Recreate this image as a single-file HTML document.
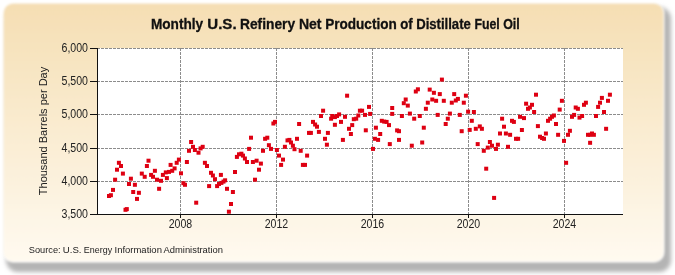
<!DOCTYPE html>
<html><head><meta charset="utf-8"><style>
html,body{margin:0;padding:0;background:#fff;width:675px;height:275px;overflow:hidden}
svg{display:block;will-change:transform}
text{font-family:"Liberation Sans",sans-serif;fill:#222}
.g{stroke:#8c8c8c;stroke-width:1;stroke-dasharray:3 1}
.a{stroke:#111;stroke-width:1}
.yl{font-size:12px;text-anchor:end}
.xl{font-size:12px;text-anchor:middle}
</style></head><body>
<svg width="675" height="275" viewBox="0 0 675 275">
<defs>
<linearGradient id="bg" x1="0" y1="0" x2="0" y2="1">
<stop offset="0" stop-color="#F5DEB3"/>
<stop offset="1" stop-color="#FFFAF0"/>
</linearGradient>
<filter id="sh" x="-10%" y="-10%" width="120%" height="130%"><feGaussianBlur stdDeviation="2.2"/></filter>
<filter id="bx" x="-5%" y="-5%" width="110%" height="110%"><feGaussianBlur stdDeviation="0.9"/></filter>
</defs>
<rect x="6" y="7" width="665" height="265" rx="12" fill="#b4b4b4" filter="url(#sh)"/>
<rect x="3" y="3" width="661" height="259" rx="10" fill="url(#bg)" stroke="#fff" stroke-opacity="0.7" stroke-width="1.5" filter="url(#bx)"/>
<rect x="97" y="48" width="526" height="166" fill="#fff"/>
<line x1="97" y1="48.5" x2="623" y2="48.5" class="g"/><line x1="97" y1="81.5" x2="623" y2="81.5" class="g"/><line x1="97" y1="114.5" x2="623" y2="114.5" class="g"/><line x1="97" y1="148.5" x2="623" y2="148.5" class="g"/><line x1="97" y1="181.5" x2="623" y2="181.5" class="g"/><line x1="180.5" y1="48" x2="180.5" y2="214" class="g"/><line x1="276.5" y1="48" x2="276.5" y2="214" class="g"/><line x1="372.5" y1="48" x2="372.5" y2="214" class="g"/><line x1="468.5" y1="48" x2="468.5" y2="214" class="g"/><line x1="564.5" y1="48" x2="564.5" y2="214" class="g"/>
<line x1="97.5" y1="48" x2="97.5" y2="215" class="a"/>
<line x1="97" y1="214.5" x2="623" y2="214.5" class="a"/>
<line x1="90" y1="48.5" x2="97" y2="48.5" class="a"/><text x="88" y="52.3" class="yl" textLength="26.5" lengthAdjust="spacingAndGlyphs">6,000</text><line x1="90" y1="81.5" x2="97" y2="81.5" class="a"/><text x="88" y="85.3" class="yl" textLength="26.5" lengthAdjust="spacingAndGlyphs">5,500</text><line x1="90" y1="114.5" x2="97" y2="114.5" class="a"/><text x="88" y="118.3" class="yl" textLength="26.5" lengthAdjust="spacingAndGlyphs">5,000</text><line x1="90" y1="148.5" x2="97" y2="148.5" class="a"/><text x="88" y="152.3" class="yl" textLength="26.5" lengthAdjust="spacingAndGlyphs">4,500</text><line x1="90" y1="181.5" x2="97" y2="181.5" class="a"/><text x="88" y="185.3" class="yl" textLength="26.5" lengthAdjust="spacingAndGlyphs">4,000</text><line x1="90" y1="214.5" x2="97" y2="214.5" class="a"/><text x="88" y="218.3" class="yl" textLength="26.5" lengthAdjust="spacingAndGlyphs">3,500</text><line x1="180.5" y1="214" x2="180.5" y2="218" class="a"/><text x="180.5" y="227.7" class="xl" textLength="23.5" lengthAdjust="spacingAndGlyphs">2008</text><line x1="276.5" y1="214" x2="276.5" y2="218" class="a"/><text x="276.5" y="227.7" class="xl" textLength="23.5" lengthAdjust="spacingAndGlyphs">2012</text><line x1="372.5" y1="214" x2="372.5" y2="218" class="a"/><text x="372.5" y="227.7" class="xl" textLength="23.5" lengthAdjust="spacingAndGlyphs">2016</text><line x1="468.5" y1="214" x2="468.5" y2="218" class="a"/><text x="468.5" y="227.7" class="xl" textLength="23.5" lengthAdjust="spacingAndGlyphs">2020</text><line x1="564.5" y1="214" x2="564.5" y2="218" class="a"/><text x="564.5" y="227.7" class="xl" textLength="23.5" lengthAdjust="spacingAndGlyphs">2024</text>
<text x="150.92" y="28.8" style="font-size:14px;font-weight:bold;fill:#111;stroke:#111;stroke-width:0.3" textLength="52.23" lengthAdjust="spacingAndGlyphs">Monthly</text><text x="207.34" y="28.8" style="font-size:14px;font-weight:bold;fill:#111;stroke:#111;stroke-width:0.3" textLength="29.26" lengthAdjust="spacingAndGlyphs">U.S.</text><text x="240.01" y="28.8" style="font-size:14px;font-weight:bold;fill:#111;stroke:#111;stroke-width:0.3" textLength="55.11" lengthAdjust="spacingAndGlyphs">Refinery</text><text x="298.90" y="28.8" style="font-size:14px;font-weight:bold;fill:#111;stroke:#111;stroke-width:0.3" textLength="22.66" lengthAdjust="spacingAndGlyphs">Net</text><text x="325.23" y="28.8" style="font-size:14px;font-weight:bold;fill:#111;stroke:#111;stroke-width:0.3" textLength="71.53" lengthAdjust="spacingAndGlyphs">Production</text><text x="400.13" y="28.8" style="font-size:14px;font-weight:bold;fill:#111;stroke:#111;stroke-width:0.3" textLength="12.48" lengthAdjust="spacingAndGlyphs">of</text><text x="416.16" y="28.8" style="font-size:14px;font-weight:bold;fill:#111;stroke:#111;stroke-width:0.3" textLength="54.67" lengthAdjust="spacingAndGlyphs">Distillate</text><text x="474.41" y="28.8" style="font-size:14px;font-weight:bold;fill:#111;stroke:#111;stroke-width:0.3" textLength="25.36" lengthAdjust="spacingAndGlyphs">Fuel</text><text x="503.17" y="28.8" style="font-size:14px;font-weight:bold;fill:#111;stroke:#111;stroke-width:0.3" textLength="16.60" lengthAdjust="spacingAndGlyphs">Oil</text>
<text transform="translate(47,131) rotate(-90)" style="font-size:11px;text-anchor:middle">Thousand Barrels per Day</text>
<text x="28.81" y="252.9" style="font-size:9.5px;fill:#222" textLength="31.80" lengthAdjust="spacingAndGlyphs">Source:</text><text x="62.79" y="252.9" style="font-size:9.5px;fill:#222" textLength="18.70" lengthAdjust="spacingAndGlyphs">U.S.</text><text x="83.85" y="252.9" style="font-size:9.5px;fill:#222" textLength="28.25" lengthAdjust="spacingAndGlyphs">Energy</text><text x="114.50" y="252.9" style="font-size:9.5px;fill:#222" textLength="47.42" lengthAdjust="spacingAndGlyphs">Information</text><text x="163.50" y="252.9" style="font-size:9.5px;fill:#222" textLength="59.49" lengthAdjust="spacingAndGlyphs">Administration</text>
<g fill="#DE0012"><rect x="107.0" y="194.0" width="4" height="4"/><rect x="108.9" y="193.2" width="4" height="4"/><rect x="111.0" y="187.9" width="4" height="4"/><rect x="113.1" y="177.7" width="4" height="4"/><rect x="115.0" y="167.7" width="4" height="4"/><rect x="116.9" y="160.8" width="4" height="4"/><rect x="119.0" y="164.0" width="4" height="4"/><rect x="120.9" y="171.6" width="4" height="4"/><rect x="123.5" y="207.8" width="4" height="4"/><rect x="124.8" y="207.1" width="4" height="4"/><rect x="127.0" y="182.0" width="4" height="4"/><rect x="128.9" y="176.7" width="4" height="4"/><rect x="131.2" y="190.0" width="4" height="4"/><rect x="132.9" y="182.8" width="4" height="4"/><rect x="135.0" y="196.9" width="4" height="4"/><rect x="136.9" y="190.8" width="4" height="4"/><rect x="139.8" y="171.6" width="4" height="4"/><rect x="142.7" y="174.8" width="4" height="4"/><rect x="144.9" y="164.0" width="4" height="4"/><rect x="146.5" y="158.7" width="4" height="4"/><rect x="149.1" y="172.9" width="4" height="4"/><rect x="151.0" y="174.8" width="4" height="4"/><rect x="152.9" y="168.8" width="4" height="4"/><rect x="155.0" y="177.7" width="4" height="4"/><rect x="157.1" y="186.8" width="4" height="4"/><rect x="159.0" y="178.8" width="4" height="4"/><rect x="160.9" y="172.9" width="4" height="4"/><rect x="163.8" y="170.4" width="4" height="4"/><rect x="164.9" y="176.1" width="4" height="4"/><rect x="167.0" y="169.9" width="4" height="4"/><rect x="168.6" y="162.9" width="4" height="4"/><rect x="170.2" y="168.8" width="4" height="4"/><rect x="172.6" y="166.4" width="4" height="4"/><rect x="174.7" y="160.8" width="4" height="4"/><rect x="176.9" y="157.6" width="4" height="4"/><rect x="179.0" y="171.3" width="4" height="4"/><rect x="181.4" y="181.2" width="4" height="4"/><rect x="183.0" y="182.8" width="4" height="4"/><rect x="184.9" y="160.0" width="4" height="4"/><rect x="187.0" y="148.8" width="4" height="4"/><rect x="189.1" y="140.0" width="4" height="4"/><rect x="191.0" y="144.8" width="4" height="4"/><rect x="192.9" y="148.0" width="4" height="4"/><rect x="194.2" y="200.7" width="4" height="4"/><rect x="196.5" y="150.7" width="4" height="4"/><rect x="198.6" y="146.4" width="4" height="4"/><rect x="200.7" y="144.8" width="4" height="4"/><rect x="202.9" y="160.8" width="4" height="4"/><rect x="205.0" y="164.0" width="4" height="4"/><rect x="207.1" y="184.1" width="4" height="4"/><rect x="209.0" y="170.8" width="4" height="4"/><rect x="210.9" y="173.5" width="4" height="4"/><rect x="213.0" y="177.2" width="4" height="4"/><rect x="215.1" y="184.1" width="4" height="4"/><rect x="217.0" y="182.0" width="4" height="4"/><rect x="218.9" y="172.9" width="4" height="4"/><rect x="219.4" y="180.9" width="4" height="4"/><rect x="221.5" y="179.6" width="4" height="4"/><rect x="223.1" y="178.3" width="4" height="4"/><rect x="225.0" y="186.8" width="4" height="4"/><rect x="226.9" y="209.7" width="4" height="4"/><rect x="229.0" y="202.0" width="4" height="4"/><rect x="230.9" y="190.0" width="4" height="4"/><rect x="233.0" y="170.0" width="4" height="4"/><rect x="234.9" y="154.9" width="4" height="4"/><rect x="237.0" y="152.3" width="4" height="4"/><rect x="239.4" y="151.7" width="4" height="4"/><rect x="241.0" y="153.6" width="4" height="4"/><rect x="242.9" y="156.5" width="4" height="4"/><rect x="245.0" y="160.0" width="4" height="4"/><rect x="247.1" y="146.9" width="4" height="4"/><rect x="249.0" y="135.7" width="4" height="4"/><rect x="250.9" y="160.0" width="4" height="4"/><rect x="253.0" y="177.7" width="4" height="4"/><rect x="254.6" y="158.7" width="4" height="4"/><rect x="257.0" y="167.7" width="4" height="4"/><rect x="258.9" y="161.6" width="4" height="4"/><rect x="261.0" y="148.8" width="4" height="4"/><rect x="263.1" y="136.8" width="4" height="4"/><rect x="265.3" y="135.7" width="4" height="4"/><rect x="266.9" y="143.2" width="4" height="4"/><rect x="269.0" y="146.9" width="4" height="4"/><rect x="271.4" y="121.5" width="4" height="4"/><rect x="273.0" y="119.9" width="4" height="4"/><rect x="274.9" y="148.0" width="4" height="4"/><rect x="277.0" y="153.6" width="4" height="4"/><rect x="279.1" y="162.9" width="4" height="4"/><rect x="281.0" y="157.6" width="4" height="4"/><rect x="282.9" y="144.8" width="4" height="4"/><rect x="285.5" y="138.4" width="4" height="4"/><rect x="287.4" y="137.9" width="4" height="4"/><rect x="289.0" y="140.5" width="4" height="4"/><rect x="290.9" y="143.7" width="4" height="4"/><rect x="292.5" y="147.2" width="4" height="4"/><rect x="295.0" y="136.8" width="4" height="4"/><rect x="297.1" y="122.0" width="4" height="4"/><rect x="298.7" y="148.8" width="4" height="4"/><rect x="300.9" y="162.9" width="4" height="4"/><rect x="303.0" y="162.9" width="4" height="4"/><rect x="305.1" y="153.6" width="4" height="4"/><rect x="307.0" y="130.9" width="4" height="4"/><rect x="308.9" y="130.9" width="4" height="4"/><rect x="311.0" y="119.9" width="4" height="4"/><rect x="313.1" y="122.5" width="4" height="4"/><rect x="315.0" y="124.7" width="4" height="4"/><rect x="316.9" y="129.9" width="4" height="4"/><rect x="319.0" y="114.0" width="4" height="4"/><rect x="321.1" y="108.7" width="4" height="4"/><rect x="323.0" y="136.8" width="4" height="4"/><rect x="324.9" y="142.7" width="4" height="4"/><rect x="325.9" y="130.9" width="4" height="4"/><rect x="329.1" y="116.7" width="4" height="4"/><rect x="330.2" y="114.0" width="4" height="4"/><rect x="332.9" y="115.1" width="4" height="4"/><rect x="332.9" y="122.8" width="4" height="4"/><rect x="335.0" y="114.0" width="4" height="4"/><rect x="337.1" y="112.4" width="4" height="4"/><rect x="339.0" y="119.9" width="4" height="4"/><rect x="340.9" y="137.9" width="4" height="4"/><rect x="343.0" y="114.8" width="4" height="4"/><rect x="345.1" y="93.7" width="4" height="4"/><rect x="347.0" y="126.8" width="4" height="4"/><rect x="348.9" y="132.0" width="4" height="4"/><rect x="350.2" y="123.1" width="4" height="4"/><rect x="351.8" y="117.2" width="4" height="4"/><rect x="354.2" y="116.7" width="4" height="4"/><rect x="356.3" y="113.5" width="4" height="4"/><rect x="357.9" y="108.7" width="4" height="4"/><rect x="360.1" y="108.7" width="4" height="4"/><rect x="363.0" y="112.9" width="4" height="4"/><rect x="363.8" y="128.3" width="4" height="4"/><rect x="367.0" y="104.9" width="4" height="4"/><rect x="368.1" y="111.9" width="4" height="4"/><rect x="371.0" y="146.9" width="4" height="4"/><rect x="372.9" y="136.8" width="4" height="4"/><rect x="373.9" y="125.7" width="4" height="4"/><rect x="376.1" y="137.9" width="4" height="4"/><rect x="378.2" y="132.0" width="4" height="4"/><rect x="379.8" y="118.8" width="4" height="4"/><rect x="382.2" y="119.6" width="4" height="4"/><rect x="384.6" y="119.9" width="4" height="4"/><rect x="387.0" y="123.1" width="4" height="4"/><rect x="387.8" y="142.1" width="4" height="4"/><rect x="390.2" y="106.0" width="4" height="4"/><rect x="390.2" y="111.9" width="4" height="4"/><rect x="395.1" y="128.4" width="4" height="4"/><rect x="397.0" y="129.2" width="4" height="4"/><rect x="397.0" y="137.9" width="4" height="4"/><rect x="399.9" y="114.0" width="4" height="4"/><rect x="401.8" y="101.2" width="4" height="4"/><rect x="403.7" y="97.5" width="4" height="4"/><rect x="405.8" y="103.6" width="4" height="4"/><rect x="407.9" y="111.6" width="4" height="4"/><rect x="409.8" y="143.7" width="4" height="4"/><rect x="412.2" y="116.7" width="4" height="4"/><rect x="413.8" y="89.5" width="4" height="4"/><rect x="415.9" y="87.3" width="4" height="4"/><rect x="417.8" y="114.0" width="4" height="4"/><rect x="420.2" y="140.5" width="4" height="4"/><rect x="421.8" y="125.7" width="4" height="4"/><rect x="423.9" y="106.8" width="4" height="4"/><rect x="425.8" y="100.7" width="4" height="4"/><rect x="427.7" y="87.6" width="4" height="4"/><rect x="430.3" y="97.5" width="4" height="4"/><rect x="431.9" y="90.8" width="4" height="4"/><rect x="434.1" y="98.8" width="4" height="4"/><rect x="435.7" y="112.9" width="4" height="4"/><rect x="437.8" y="92.1" width="4" height="4"/><rect x="439.9" y="77.6" width="4" height="4"/><rect x="441.8" y="98.8" width="4" height="4"/><rect x="443.7" y="122.0" width="4" height="4"/><rect x="445.8" y="116.7" width="4" height="4"/><rect x="447.9" y="111.6" width="4" height="4"/><rect x="449.8" y="100.7" width="4" height="4"/><rect x="452.2" y="92.1" width="4" height="4"/><rect x="453.8" y="98.5" width="4" height="4"/><rect x="455.9" y="96.9" width="4" height="4"/><rect x="457.8" y="112.9" width="4" height="4"/><rect x="459.7" y="129.2" width="4" height="4"/><rect x="461.8" y="100.7" width="4" height="4"/><rect x="463.9" y="93.7" width="4" height="4"/><rect x="466.1" y="109.7" width="4" height="4"/><rect x="467.7" y="127.9" width="4" height="4"/><rect x="469.8" y="118.8" width="4" height="4"/><rect x="471.9" y="110.0" width="4" height="4"/><rect x="473.8" y="126.8" width="4" height="4"/><rect x="475.7" y="142.1" width="4" height="4"/><rect x="477.8" y="124.4" width="4" height="4"/><rect x="479.9" y="126.8" width="4" height="4"/><rect x="481.8" y="148.8" width="4" height="4"/><rect x="484.2" y="166.7" width="4" height="4"/><rect x="485.8" y="145.6" width="4" height="4"/><rect x="487.9" y="140.0" width="4" height="4"/><rect x="490.0" y="143.7" width="4" height="4"/><rect x="492.1" y="195.9" width="4" height="4"/><rect x="494.0" y="146.9" width="4" height="4"/><rect x="495.9" y="142.7" width="4" height="4"/><rect x="498.0" y="131.5" width="4" height="4"/><rect x="500.1" y="116.7" width="4" height="4"/><rect x="502.0" y="124.7" width="4" height="4"/><rect x="503.9" y="131.5" width="4" height="4"/><rect x="506.0" y="144.8" width="4" height="4"/><rect x="508.1" y="132.8" width="4" height="4"/><rect x="510.0" y="118.8" width="4" height="4"/><rect x="511.9" y="119.9" width="4" height="4"/><rect x="514.0" y="136.8" width="4" height="4"/><rect x="516.1" y="136.8" width="4" height="4"/><rect x="518.0" y="114.8" width="4" height="4"/><rect x="519.9" y="128.0" width="4" height="4"/><rect x="522.0" y="116.1" width="4" height="4"/><rect x="524.1" y="101.7" width="4" height="4"/><rect x="526.0" y="106.8" width="4" height="4"/><rect x="527.9" y="105.5" width="4" height="4"/><rect x="530.0" y="102.8" width="4" height="4"/><rect x="532.1" y="110.0" width="4" height="4"/><rect x="534.0" y="92.7" width="4" height="4"/><rect x="535.9" y="124.1" width="4" height="4"/><rect x="538.0" y="134.7" width="4" height="4"/><rect x="540.1" y="136.0" width="4" height="4"/><rect x="542.0" y="136.8" width="4" height="4"/><rect x="543.9" y="131.5" width="4" height="4"/><rect x="546.0" y="118.8" width="4" height="4"/><rect x="548.1" y="116.7" width="4" height="4"/><rect x="550.0" y="114.8" width="4" height="4"/><rect x="551.9" y="113.5" width="4" height="4"/><rect x="554.0" y="122.0" width="4" height="4"/><rect x="556.1" y="132.8" width="4" height="4"/><rect x="557.7" y="107.6" width="4" height="4"/><rect x="559.9" y="98.8" width="4" height="4"/><rect x="562.0" y="138.9" width="4" height="4"/><rect x="564.1" y="160.8" width="4" height="4"/><rect x="566.0" y="132.8" width="4" height="4"/><rect x="567.9" y="128.8" width="4" height="4"/><rect x="570.0" y="114.8" width="4" height="4"/><rect x="572.1" y="112.9" width="4" height="4"/><rect x="573.7" y="105.5" width="4" height="4"/><rect x="575.9" y="106.8" width="4" height="4"/><rect x="577.5" y="115.6" width="4" height="4"/><rect x="580.1" y="114.0" width="4" height="4"/><rect x="582.0" y="102.8" width="4" height="4"/><rect x="583.9" y="100.7" width="4" height="4"/><rect x="586.0" y="132.8" width="4" height="4"/><rect x="588.1" y="132.8" width="4" height="4"/><rect x="588.1" y="140.8" width="4" height="4"/><rect x="590.0" y="131.5" width="4" height="4"/><rect x="591.9" y="132.8" width="4" height="4"/><rect x="594.0" y="114.0" width="4" height="4"/><rect x="596.1" y="104.9" width="4" height="4"/><rect x="598.0" y="100.7" width="4" height="4"/><rect x="599.9" y="95.9" width="4" height="4"/><rect x="602.0" y="110.0" width="4" height="4"/><rect x="604.1" y="126.8" width="4" height="4"/><rect x="606.0" y="98.8" width="4" height="4"/><rect x="607.9" y="92.7" width="4" height="4"/></g>
</svg>
</body></html>
